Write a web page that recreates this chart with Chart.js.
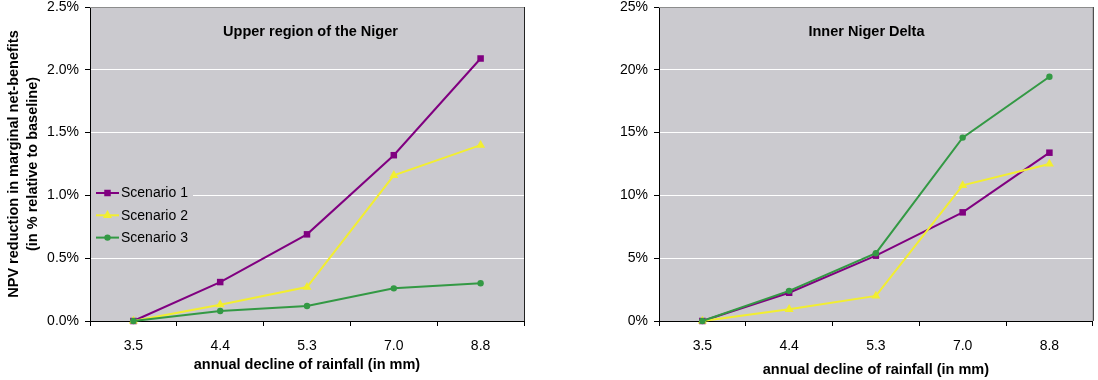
<!DOCTYPE html>
<html>
<head>
<meta charset="utf-8">
<script src="https://cdn.jsdelivr.net/npm/chart.js@4.4.1/dist/chart.umd.min.js"></script>
<style>
  html, body { margin: 0; padding: 0; background: #fff; }
  .panel { position: absolute; top: 0; width: 549px; height: 380px; }
</style>
</head>
<body>
<div class="panel" style="left:0"><canvas id="chart1" width="549" height="380"></canvas></div>
<div class="panel" style="left:549px"><canvas id="chart2" width="549" height="380"></canvas></div>
<script>
"use strict";

// data (values in %)
var rainfallDecline = ['3.5', '4.4', '5.3', '7.0', '8.8'];
var scenarioNames = ['Scenario 1', 'Scenario 2', 'Scenario 3'];

var upperS1 = [0, 0.31, 0.69, 1.32, 2.09];
var upperS2 = [0, 0.13, 0.27, 1.16, 1.40];
var upperS3 = [0, 0.08, 0.12, 0.26, 0.30];

var deltaS1 = [0, 2.25, 5.2, 8.65, 13.4];
var deltaS2 = [0, 0.93, 2.0, 10.8, 12.5];
var deltaS3 = [0, 2.4, 5.4, 14.6, 19.45];

var upperTickLabels = ['0.0%', '0.5%', '1.0%', '1.5%', '2.0%', '2.5%'];
var deltaTickLabels = ['0%', '5%', '10%', '15%', '20%', '25%'];

var colors = ['#800080', '#f2ee30', '#339944'];
var markers = ['rect', 'triangle', 'circle'];
var markerSize = [4.6, 5.2, 3.2];
var plotBg = '#cbcacf';
var FONT = "'Liberation Sans', Arial, sans-serif";

Chart.defaults.font.family = FONT;
Chart.defaults.color = '#000';

var makeDatasets = function (series) {
  return series.map(function (data, i) {
    return {
      label: scenarioNames[i],
      data: data,
      borderColor: colors[i],
      backgroundColor: colors[i],
      borderWidth: 2,
      pointStyle: markers[i],
      pointRadius: markerSize[i],
      pointBorderWidth: 0,
      pointBackgroundColor: colors[i],
      tension: 0,
      clip: false,
      order: 3 - i
    };
  });
};

// grey plot area, top/right frame, title inside the plot
var framePlugin = {
  id: 'frame',
  beforeDraw: function (chart) {
    var a = chart.chartArea, c = chart.ctx;
    c.save();
    c.fillStyle = plotBg;
    c.fillRect(a.left, a.top, a.right - a.left, a.bottom - a.top);
    c.restore();
  },
  beforeDatasetsDraw: function (chart, args, opts) {
    var a = chart.chartArea, c = chart.ctx;
    c.save();
    c.lineWidth = 1;
    c.strokeStyle = '#8c8c8c';
    c.beginPath();
    c.moveTo(a.left, a.top + 0.5);
    c.lineTo(a.right, a.top + 0.5);
    c.stroke();
    c.strokeStyle = '#222';
    c.beginPath();
    c.moveTo(a.right + 0.5, a.top);
    c.lineTo(a.right + 0.5, a.bottom);
    c.stroke();
    c.fillStyle = '#000';
    c.font = 'bold 14.5px ' + FONT;
    c.textAlign = 'center';
    c.textBaseline = 'middle';
    c.fillText(opts.text, a.left + opts.dx, a.top + opts.dy);
    c.restore();
  }
};

// Excel-like legend box inside the left plot
var legendPlugin = {
  id: 'boxLegend',
  afterDatasetsDraw: function (chart, args, opts) {
    if (!opts.show) return;
    var a = chart.chartArea, c = chart.ctx;
    c.save();
    c.fillStyle = plotBg;
    c.fillRect(a.left + 1, 182, 102, 66);
    chart.data.datasets.forEach(function (ds, i) {
      var y = 193 + i * 22.3;
      c.strokeStyle = ds.borderColor;
      c.lineWidth = 2;
      c.beginPath();
      c.moveTo(96, y);
      c.lineTo(119, y);
      c.stroke();
      c.fillStyle = ds.backgroundColor;
      var r = ds.pointRadius;
      c.beginPath();
      if (ds.pointStyle === 'rect') {
        var s = r * Math.SQRT1_2;
        c.rect(107.5 - s, y - s, 2 * s, 2 * s);
      } else if (ds.pointStyle === 'triangle') {
        c.moveTo(107.5, y - r);
        c.lineTo(107.5 + r * 0.866, y + r * 0.5);
        c.lineTo(107.5 - r * 0.866, y + r * 0.5);
        c.closePath();
      } else {
        c.arc(107.5, y, r, 0, Math.PI * 2);
      }
      c.fill();
      c.fillStyle = '#000';
      c.font = '14px ' + FONT;
      c.textAlign = 'left';
      c.textBaseline = 'middle';
      c.fillText(ds.label, 121, y + 0.5);
    });
    c.restore();
  }
};

var makeOptions = function (cfg) {
  return {
    responsive: false,
    animation: false,
    devicePixelRatio: 1,
    layout: { padding: { top: 0, right: cfg.padRight, bottom: 0, left: 0 } },
    plugins: {
      legend: { display: false },
      tooltip: { enabled: false },
      frame: { text: cfg.title, dx: cfg.titleDx, dy: 25 },
      boxLegend: { show: cfg.legend }
    },
    scales: {
      x: {
        type: 'category',
        offset: true,
        afterFit: function (s) { s.height = 59; },
        grid: {
          offset: true,
          drawOnChartArea: false,
          drawTicks: true,
          tickLength: 5,
          color: '#000',
          tickColor: '#000'
        },
        border: { color: '#000', width: 1 },
        ticks: { font: { size: 14 }, padding: 12, color: '#000' },
        title: {
          display: true,
          text: 'annual decline of rainfall (in mm)',
          font: { size: 14.5, weight: 'bold' },
          padding: { top: 0, bottom: cfg.xTitlePad },
          color: '#000'
        }
      },
      y: {
        min: 0,
        max: cfg.max,
        afterFit: function (s) {
          s.width = cfg.yWidth;
          s.paddingTop = 7;
          s.paddingBottom = 0;
        },
        afterBuildTicks: function (s) {
          s.ticks = cfg.tickLabels.map(function (t, i) { return { value: i * cfg.max / 5 }; });
        },
        grid: {
          color: function (ctx) { return ctx.tick && ctx.tick.value === cfg.max ? 'rgba(0,0,0,0)' : '#ffffff'; },
          tickColor: '#000',
          tickLength: 5,
          lineWidth: 1
        },
        border: { color: '#000', width: 1 },
        ticks: {
          font: { size: 14 },
          padding: 6,
          color: '#000',
          callback: function (v, i) { return cfg.tickLabels[i]; }
        },
        title: {
          display: cfg.yTitle !== null,
          text: cfg.yTitle,
          font: { size: 14.5, weight: 'bold', lineHeight: 1.35 },
          padding: { top: 4, bottom: 0 },
          color: '#000'
        }
      }
    }
  };
};

new Chart(document.getElementById('chart1').getContext('2d'), {
  type: 'line',
  data: { labels: rainfallDecline, datasets: makeDatasets([upperS1, upperS2, upperS3]) },
  options: makeOptions({
    max: 2.5, tickLabels: upperTickLabels, yWidth: 90, padRight: 25,
    title: 'Upper region of the Niger', titleDx: 220.5, legend: true, xTitlePad: 6,
    yTitle: ['NPV reduction in marginal net-benefits', '(in % relative to baseline)']
  }),
  plugins: [framePlugin, legendPlugin]
});

new Chart(document.getElementById('chart2').getContext('2d'), {
  type: 'line',
  data: { labels: rainfallDecline, datasets: makeDatasets([deltaS1, deltaS2, deltaS3]) },
  options: makeOptions({
    max: 25, tickLabels: deltaTickLabels, yWidth: 110, padRight: 5,
    title: 'Inner Niger Delta', titleDx: 207.5, legend: false, xTitlePad: 1,
    yTitle: null
  }),
  plugins: [framePlugin, legendPlugin]
});
</script>
</body>
</html>
